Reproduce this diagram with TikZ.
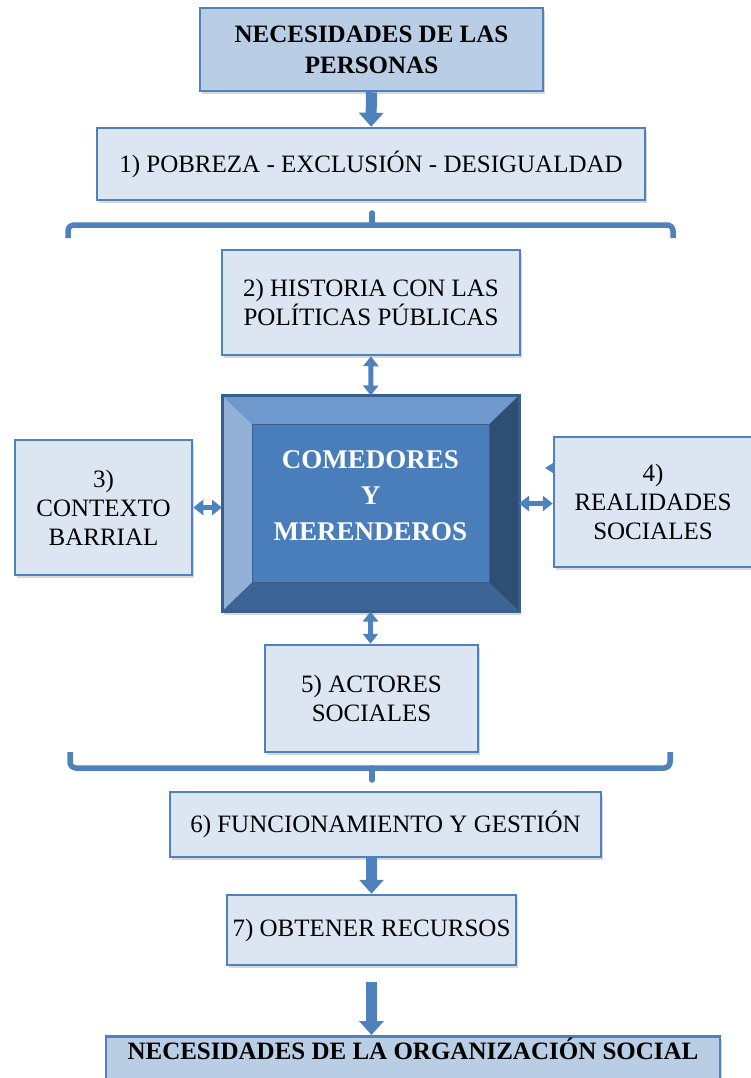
\documentclass[tikz,border=0pt]{standalone}
\usepackage{fontspec}
\setmainfont{Liberation Serif}
\usepackage{xcolor}
\usetikzlibrary{arrows.meta,shapes,shadows,calc,positioning}
\definecolor{edgeblue}{HTML}{4F81BD}
\definecolor{paleblue}{HTML}{DCE6F2}
\definecolor{midblue}{HTML}{B9CDE5}
\definecolor{faceblue}{HTML}{4A7EBB}
\definecolor{bevtop}{HTML}{6F99CC}
\definecolor{bevleft}{HTML}{93B1D6}
\definecolor{bevright}{HTML}{2E4E73}
\definecolor{bevbottom}{HTML}{3C6596}
\definecolor{coreedge}{HTML}{375E8E}

\begin{document}
\begin{tikzpicture}[x = 1pt, y = -1pt,
    box/.style = {draw = edgeblue, line width = 2.5pt, fill = paleblue, align = center, inner sep = 0pt,
        font = \fontsize{25}{29}\selectfont, drop shadow = {shadow xshift = 2pt, shadow yshift = -3pt, opacity = .3}},
    headbox/.style = {box, fill = midblue, font = \bfseries\fontsize{25}{31}\selectfont},
    bigarrow/.style = {edgeblue, line width = 11pt, -{Triangle[width = 24pt, length = 14pt]}},
    twoway/.style = {edgeblue, line width = 5pt, {Triangle[width = 15pt, length = 10pt]}-{Triangle[width = 15pt, length = 10pt]}},
    brace/.style = {edgeblue, line width = 5.5pt, rounded corners = 6pt}]
    \useasboundingbox[fill = white] (0,0) rectangle (750,1078);

    \node[headbox, minimum width = 343pt, minimum height = 83pt] (need) at (371.5,49.5) {NECESIDADES DE LAS\\PERSONAS};
    \node[box, minimum width = 548pt, minimum height = 72pt] (poverty) at (371,164) {1) POBREZA - EXCLUSIÓN - DESIGUALDAD};
    \node[box, minimum width = 298pt, minimum height = 105pt] (history) at (371,302.5) {2) HISTORIA CON LAS\\POLÍTICAS PÚBLICAS};
    \node[box, minimum width = 177pt, minimum height = 135pt] (context) at (103.5,507.5) {3)\\CONTEXTO\\BARRIAL};
    \node[box, minimum width = 198pt, minimum height = 130pt] (reality) at (653,502) {4)\\REALIDADES\\SOCIALES};
    \node[box, minimum width = 213pt, minimum height = 107pt] (actors) at (371.5,698.5) {5) ACTORES\\SOCIALES};
    \node[box, minimum width = 431pt, minimum height = 65pt] (running) at (385.5,824.5) {6) FUNCIONAMIENTO Y GESTIÓN};
    \node[box, minimum width = 289pt, minimum height = 70pt] (funds) at (371.5,930) {7) OBTENER RECURSOS};
    \node[headbox, anchor = north, minimum width = 614pt, minimum height = 60pt, text height = 23pt, text depth = 37pt] (orgneed) at (413,1035) {NECESIDADES DE LA ORGANIZACIÓN SOCIAL};

    \node[fill = faceblue, minimum width = 297pt, minimum height = 216pt, inner sep = 0pt, outer sep = 0pt,
        drop shadow = {shadow xshift = 2pt, shadow yshift = -3pt, opacity = .3}] (core) at (370.5,503.5) {};
    \coordinate (cnw) at ($(core.north west)+(30,29)$);
    \coordinate (cne) at ($(core.north east)+(-30,29)$);
    \coordinate (csw) at ($(core.south west)+(30,-29)$);
    \coordinate (cse) at ($(core.south east)+(-30,-29)$);
    \fill[bevtop] (core.north west) -- (core.north east) -- (cne) -- (cnw) -- cycle;
    \fill[bevleft] (core.north west) -- (cnw) -- (csw) -- (core.south west) -- cycle;
    \fill[bevright] (core.north east) -- (core.south east) -- (cse) -- (cne) -- cycle;
    \fill[bevbottom] (core.south west) -- (csw) -- (cse) -- (core.south east) -- cycle;
    \draw[coreedge, line width = 1pt] (cnw) rectangle (cse);
    \draw[coreedge, line width = 3pt] (core.north west) rectangle (core.south east);
    \node[align = center, text = white, font = \bfseries\fontsize{27}{36}\selectfont] (corelabel) at ($(core.center)+(0,-8)$) {COMEDORES\\Y\\MERENDEROS};

    \draw[bigarrow] (need) -- (poverty);
    \draw[brace] (68,238) -- (68,225) -- (673,225) -- (673,238);
    \draw[brace, line cap = round] (372,225) -- (372,213);
    \draw[twoway] (history) -- (core);
    \draw[twoway] (context.east) -- (context.east -| core.west);
    \draw[twoway] (core.east) -- (core.east -| reality.west);
    \fill[edgeblue] (545,468) -- (553,463) -- (553,473) -- cycle;
    \draw[twoway] (core.south) -- (core.south |- actors.north);
    \draw[brace] (70,752) -- (70,768) -- (670,768) -- (670,752);
    \draw[brace, line cap = round] (372,768) -- (372,780);
    \draw[bigarrow] (running.south -| funds.north) -- (funds.north);
    \draw[bigarrow] ($(funds.south)+(0,16)$) -- (funds.south |- orgneed.north);
\end{tikzpicture}
\end{document}
